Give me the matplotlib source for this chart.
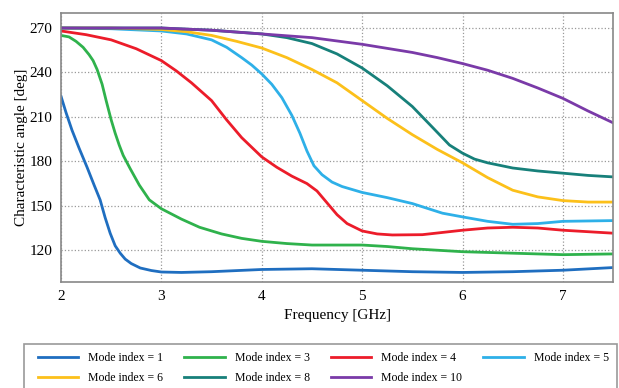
import matplotlib.pyplot as plt
from matplotlib.patches import Rectangle

plt.rcParams['font.family'] = ['Liberation Serif', 'DejaVu Serif']

# frequency points (GHz) and characteristic angles (deg)
f_m1 = [2.0, 2.05, 2.11, 2.18, 2.26, 2.33, 2.39, 2.44, 2.49, 2.54, 2.59, 2.64, 2.7, 2.79, 2.9, 3.0, 3.2, 3.5, 4.0, 4.5, 5.0, 5.5, 6.0, 6.5, 7.0, 7.5]
a_m1 = [224, 213, 201, 189, 176, 164, 154, 142, 131.5, 123, 118, 114, 111, 108, 106.3, 105.3, 105, 105.5, 107, 107.5, 106.5, 105.5, 105, 105.5, 106.5, 108.3]

f_m3 = [2.0, 2.08, 2.15, 2.22, 2.28, 2.32, 2.36, 2.41, 2.45, 2.5, 2.54, 2.58, 2.62, 2.69, 2.78, 2.88, 3.0, 3.2, 3.38, 3.6, 3.8, 4.0, 4.25, 4.5, 5.0, 5.25, 5.5, 6.0, 6.5, 7.0, 7.5]
a_m3 = [265, 264, 261, 257, 252, 248, 242, 232, 221, 208, 199, 191, 184, 175, 164, 154, 148, 141, 135.5, 131, 128, 126, 124.5, 123.5, 123.5, 122.5, 121, 119, 118, 117, 117.5]

f_m4 = [2.0, 2.25, 2.5, 2.75, 3.0, 3.15, 3.3, 3.5, 3.65, 3.8, 4.0, 4.15, 4.3, 4.45, 4.55, 4.65, 4.75, 4.85, 5.0, 5.15, 5.3, 5.6, 6.0, 6.25, 6.5, 6.75, 7.0, 7.5]
a_m4 = [268, 265.5, 262, 256, 248, 241, 233, 221, 208, 196, 183, 176, 170, 165, 160, 152, 144, 138, 133, 131, 130.3, 130.5, 133.5, 135, 135.5, 135, 133.5, 131.5]

f_m5 = [2.0, 2.5, 3.0, 3.25, 3.5, 3.65, 3.8, 3.9, 4.0, 4.1, 4.2, 4.3, 4.38, 4.45, 4.52, 4.6, 4.7, 4.8, 5.0, 5.25, 5.5, 5.8, 6.0, 6.25, 6.5, 6.75, 7.0, 7.5]
a_m5 = [270, 269.5, 268, 266, 262, 257, 250, 245, 239, 232, 223, 211, 199, 187, 177, 171, 166, 163, 159, 155.5, 151.5, 145, 142.5, 139.5, 137.5, 138, 139.5, 140]

f_m6 = [2.0, 2.5, 3.0, 3.25, 3.5, 3.75, 4.0, 4.25, 4.5, 4.75, 5.0, 5.25, 5.5, 5.75, 6.0, 6.25, 6.5, 6.75, 7.0, 7.25, 7.5]
a_m6 = [270, 270, 269, 267.5, 265, 261, 256.5, 250, 242, 233, 221, 209, 198, 188, 179, 169, 160.5, 156, 153.5, 152.5, 152.5]

f_m8 = [2.0, 2.5, 3.0, 3.5, 4.0, 4.25, 4.5, 4.75, 5.0, 5.25, 5.5, 5.7, 5.87, 6.0, 6.12, 6.25, 6.5, 6.75, 7.0, 7.25, 7.5]
a_m8 = [270, 270, 270, 268.5, 266, 263.5, 259.5, 252.5, 243, 231, 217, 203, 191, 185.5, 181.5, 179, 175.5, 173.5, 172, 170.5, 169.5]

f_m10 = [2.0, 2.5, 3.0, 3.5, 4.0, 4.5, 5.0, 5.5, 5.75, 6.0, 6.25, 6.5, 6.75, 7.0, 7.25, 7.5]
a_m10 = [270, 270, 270, 268.5, 266, 263.5, 259, 253.5, 250, 246, 241.5, 236, 229.5, 222.5, 214, 206]

series = [
    ('Mode index = 1', f_m1, a_m1, '#1f6ec0'),
    ('Mode index = 3', f_m3, a_m3, '#2fb24c'),
    ('Mode index = 4', f_m4, a_m4, '#ec1c2a'),
    ('Mode index = 5', f_m5, a_m5, '#2eb0e8'),
    ('Mode index = 6', f_m6, a_m6, '#fcc01a'),
    ('Mode index = 8', f_m8, a_m8, '#17807a'),
    ('Mode index = 10', f_m10, a_m10, '#7a3aa8'),
]

fig = plt.figure(figsize=(6.19, 3.88), dpi=100)
ax = fig.add_axes([0.0985, 0.273, 0.892, 0.693])

lines = {}
for label, f, a, c in series:
    lines[label], = ax.plot(f, a, color=c, lw=2, label=label)

ax.set_xlim(2, 7.5)
ax.set_ylim(98.5, 280)
ax.set_xticks([2, 3, 4, 5, 6, 7])
ax.set_yticks([120, 150, 180, 210, 240, 270])
ax.grid(True, ls=':', color='#999999', lw=0.9)
ax.tick_params(length=0, labelsize=11, pad=6)
for s in ax.spines.values():
    s.set_color('#888888')
    s.set_linewidth(1.2)

ax.set_xlabel('Frequency [GHz]', fontsize=11)
ax.set_ylabel('Characteristic angle [deg]', fontsize=11, labelpad=1)

# legend box is wider than its entries, so draw it separately
fig.patches.append(Rectangle((24 / 619, -0.05), 593 / 619, 0.05 + 1 - 344 / 388,
                             transform=fig.transFigure, fill=False,
                             edgecolor='#999999', lw=1.2))

# matplotlib fills legend columns first, reorder so rows read 1,3,4,5 / 6,8,10
order = [0, 4, 1, 5, 2, 6, 3]
handles = [lines[series[i][0]] for i in order]
labels = [series[i][0] for i in order]
leg = fig.legend(handles, labels, loc='upper left',
                 bbox_to_anchor=(38 / 619, 1 - 352 / 388),
                 ncol=4, fontsize=8.5, frameon=False,
                 handlelength=3.4, borderaxespad=0, borderpad=0, columnspacing=1.8,
                 handletextpad=0.85, labelspacing=0.65)

fig.savefig('out.png', dpi=100)
